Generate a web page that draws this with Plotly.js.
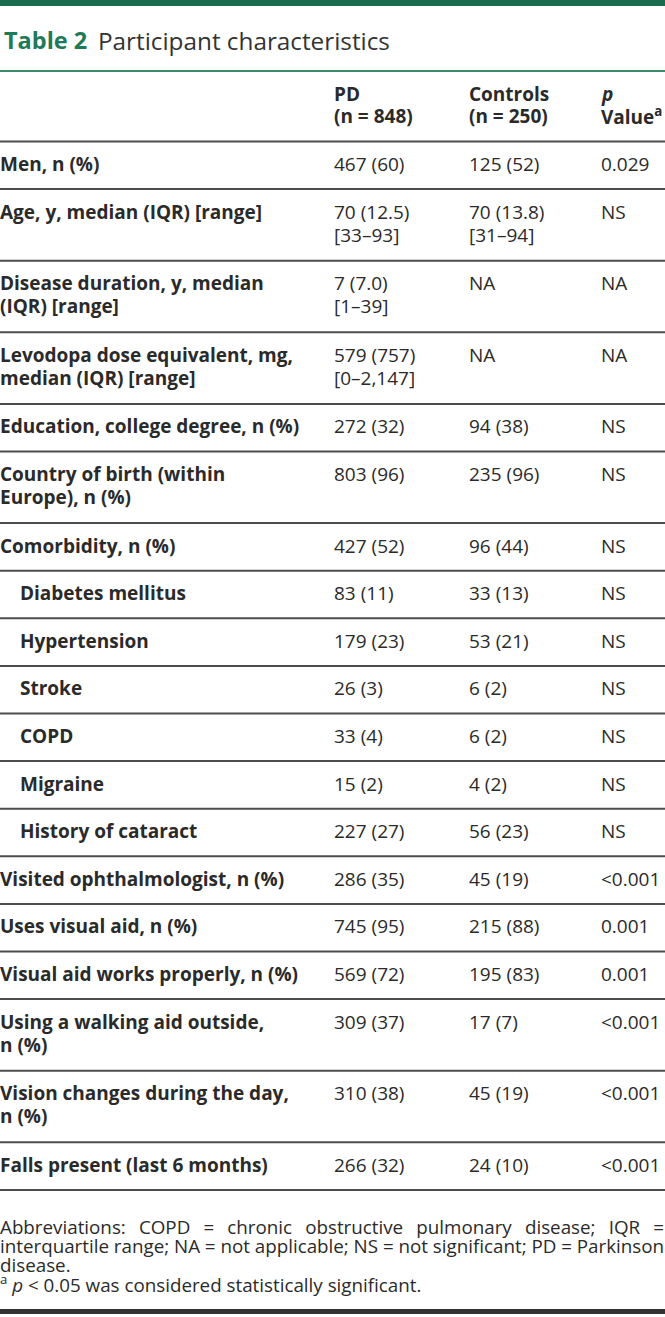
<!DOCTYPE html>
<html>
<head>
<meta charset="utf-8">
<script src="https://cdn.plot.ly/plotly-3.0.1.min.js"></script>
<style>
  html, body { margin: 0; padding: 0; background: #ffffff; }
  #chart { width: 665px; height: 1317px; }
</style>
</head>
<body>
<div id="chart"></div>
<script>
// ---------- data ----------
const tableNumber = "Table 2";
const tableTitle = "Participant characteristics";
const headers = ["", "PD<br>(n = 848)", "Controls<br>(n = 250)", "<i>p</i><br>Value<sup>a</sup>"];
const categories = [
  "Men, n (%)",
  "Age, y, median (IQR) [range]",
  "Disease duration, y, median<br>(IQR) [range]",
  "Levodopa dose equivalent, mg,<br>median (IQR) [range]",
  "Education, college degree, n (%)",
  "Country of birth (within<br>Europe), n (%)",
  "Comorbidity, n (%)",
  "Diabetes mellitus",
  "Hypertension",
  "Stroke",
  "COPD",
  "Migraine",
  "History of cataract",
  "Visited ophthalmologist, n (%)",
  "Uses visual aid, n (%)",
  "Visual aid works properly, n (%)",
  "Using a walking aid outside,<br>n (%)",
  "Vision changes during the day,<br>n (%)",
  "Falls present (last 6 months)"
];
const subItems = [false, false, false, false, false, false, false,
  true, true, true, true, true, true,
  false, false, false, false, false, false];
const pdValues = [
  "467 (60)", "70 (12.5)<br>[33–93]", "7 (7.0)<br>[1–39]", "579 (757)<br>[0–2,147]",
  "272 (32)", "803 (96)", "427 (52)", "83 (11)", "179 (23)", "26 (3)", "33 (4)",
  "15 (2)", "227 (27)", "286 (35)", "745 (95)", "569 (72)", "309 (37)", "310 (38)", "266 (32)"
];
const controlValues = [
  "125 (52)", "70 (13.8)<br>[31–94]", "NA", "NA",
  "94 (38)", "235 (96)", "96 (44)", "33 (13)", "53 (21)", "6 (2)", "6 (2)",
  "4 (2)", "56 (23)", "45 (19)", "215 (88)", "195 (83)", "17 (7)", "45 (19)", "24 (10)"
];
const pValues = [
  "0.029", "NS", "NA", "NA", "NS", "NS", "NS", "NS", "NS", "NS", "NS",
  "NS", "NS", "&lt;0.001", "0.001", "0.001", "&lt;0.001", "&lt;0.001", "&lt;0.001"
];
const footnoteAbbrev = "Abbreviations: COPD = chronic obstructive pulmonary disease; IQR = interquartile range; NA = not applicable; NS = not significant; PD = Parkinson disease.";
const footnoteSig = "<sup>a</sup> <i>p</i> &lt; 0.05 was considered statistically significant.";

// ---------- layout constants ----------
const W = 665, H = 1317;
const FONT = "Open Sans";
const green = "#1b6b4f";
const textColor = "#2a2a2a";
const ruleColor = "#4d4d4d";
const bodySize = 19;
const colX = [0, 334, 469, 601];
const indent = 20;
const headerTop = 72, headerBottom = 141.5;
const firstLineOffset = 22.5, linePitch = 23;
const singleRowH = 47.6, doubleRowH = 71.6;

const annotations = [];
const shapes = [];

function addText(x, y, text, opts) {
  annotations.push(Object.assign({
    x: x, y: y, xref: "x", yref: "y", text: text, showarrow: false,
    xanchor: "left", yanchor: "middle", align: "left",
    borderpad: 0, borderwidth: 0,
    font: { family: FONT, size: bodySize, color: textColor }
  }, opts || {}));
}
function hline(y, color, width) {
  shapes.push({ type: "line", xref: "x", yref: "y", x0: 0, x1: W, y0: y, y1: y,
    line: { color: color, width: width } });
}

// top bar
shapes.push({ type: "rect", xref: "x", yref: "y", x0: 0, x1: W, y0: 0, y1: 6,
  fillcolor: green, line: { width: 0 } });

// title
addText(4, 40, "<b>" + tableNumber + "</b>", { font: { family: FONT, size: 23.5, color: "#1f7a57" } });
addText(98, 40, tableTitle, { font: { family: FONT, size: 24.3, color: "#333333" } });
hline(headerTop - 1, "#3a8a6c", 2);

// header
headers.forEach((h, c) => {
  if (!h) return;
  h.split("<br>").forEach((ln, k) => {
    addText(colX[c], 94 + k * 22, "<b>" + ln + "</b>");
  });
});
hline(headerBottom, ruleColor, 2);

// rows
let rowTop = headerBottom;
categories.forEach((cat, i) => {
  const cells = [cat, pdValues[i], controlValues[i], pValues[i]];
  const nLines = Math.max(...cells.map(s => s.split("<br>").length));
  cells.forEach((s, c) => {
    s.split("<br>").forEach((ln, k) => {
      const x = c === 0 ? (subItems[i] ? indent : colX[0]) : colX[c];
      addText(x, rowTop + firstLineOffset + k * linePitch, c === 0 ? "<b>" + ln + "</b>" : ln);
    });
  });
  rowTop += nLines > 1 ? doubleRowH : singleRowH;
  hline(rowTop, ruleColor, 2);
});

// footnotes: justified paragraph (word-spacing computed from measured widths)
const footSize = 18.8;
const footPitch = 19;
const canvas = document.createElement("canvas");
const ctx = canvas.getContext("2d");
ctx.font = footSize + "px '" + FONT + "'";
const spaceW = ctx.measureText(" ").width;
const words = footnoteAbbrev.split(" ");
const footLines = [];
let cur = [], curW = 0;
words.forEach(w => {
  const ww = ctx.measureText(w).width;
  const needed = cur.length ? curW + spaceW * 0.75 + ww : ww;
  if (needed > W && cur.length) {
    footLines.push(cur); cur = [w]; curW = ww;
  } else { cur.push(w); curW = needed; }
});
if (cur.length) footLines.push(cur);

let fy = 1227;
footLines.forEach((ln, li) => {
  const last = li === footLines.length - 1;
  const txt = ln.join(" ");
  let html = txt;
  if (!last && ln.length > 1) {
    const natural = ctx.measureText(txt).width;
    const extra = (W - 1 - natural) / (ln.length - 1);
    html = '<span style="word-spacing:' + extra.toFixed(2) + 'px">' + txt + '</span>';
  }
  addText(0, fy, html, { font: { family: FONT, size: footSize, color: textColor } });
  fy += footPitch;
});
addText(0, fy, footnoteSig, { font: { family: FONT, size: footSize, color: textColor } });

// bottom rule
shapes.push({ type: "rect", xref: "x", yref: "y", x0: 0, x1: W, y0: 1309, y1: 1314,
  fillcolor: "#333333", line: { width: 0 } });

const layout = {
  width: W, height: H,
  margin: { l: 0, r: 0, t: 0, b: 0, pad: 0 },
  paper_bgcolor: "#ffffff", plot_bgcolor: "#ffffff",
  xaxis: { range: [0, W], visible: false, fixedrange: true },
  yaxis: { range: [H, 0], visible: false, fixedrange: true },
  showlegend: false,
  annotations: annotations,
  shapes: shapes
};
Plotly.newPlot("chart", [], layout, { staticPlot: true, displayModeBar: false });
</script>
</body>
</html>
